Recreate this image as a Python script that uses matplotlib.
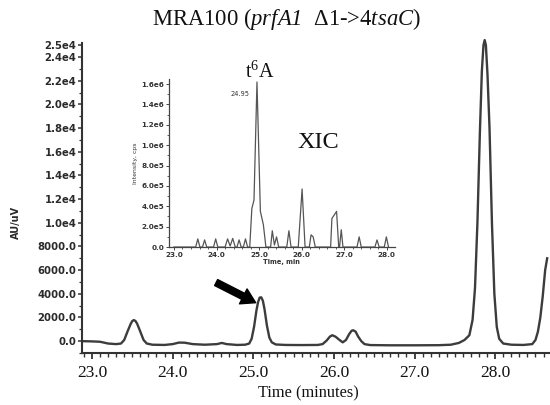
import matplotlib
matplotlib.use("Agg")
import matplotlib.pyplot as plt
from matplotlib.ticker import MultipleLocator, FixedLocator, FixedFormatter

plt.rcParams['mathtext.fontset'] = 'custom'
plt.rcParams['mathtext.rm'] = 'Liberation Serif'
plt.rcParams['mathtext.it'] = 'Liberation Serif:italic'
# italic run that keeps digits italic too (used for gene names)
plt.rcParams['mathtext.sf'] = 'Liberation Serif:italic'

# UV chromatogram (AU/uV vs. retention time)
uv_time = [22.88, 23.00, 23.10, 23.20, 23.30, 23.36, 23.40, 23.44, 23.48, 23.50,
           23.52, 23.54, 23.56, 23.60, 23.64, 23.68, 23.75, 23.90, 24.00, 24.08,
           24.15, 24.25, 24.40, 24.55, 24.61, 24.67, 24.80, 24.90, 24.95, 24.98,
           25.01, 25.04, 25.06, 25.08, 25.10, 25.12, 25.14, 25.17, 25.20, 25.23,
           25.28, 25.40, 25.60, 25.80, 25.86, 25.91, 25.95, 25.98, 26.02, 26.07,
           26.11, 26.15, 26.19, 26.22, 26.24, 26.27, 26.30, 26.34, 26.38, 26.45,
           26.70, 27.00, 27.30, 27.45, 27.55, 27.62, 27.68, 27.72, 27.75, 27.78,
           27.81, 27.835, 27.855, 27.87, 27.885, 27.905, 27.93, 27.96, 27.99, 28.02,
           28.05, 28.10, 28.20, 28.35, 28.46, 28.50, 28.53, 28.56, 28.59, 28.62,
           28.645]
uv_signal = [0, -20, -50, -200, -250, -200, 100, 800, 1450, 1700,
             1780, 1700, 1480, 800, 100, -200, -300, -320, -250, -120,
             -130, -250, -300, -250, -150, -250, -320, -300, -200, 200,
             1200, 2600, 3300, 3680, 3700, 3400, 2700, 1300, 300, -100,
             -280, -320, -330, -320, -250, 50, 380, 500, 380, 100,
             -100, 100, 600, 880, 920, 800, 400, 0, -250, -330,
             -350, -350, -340, -300, -150, 100, 500, 1800, 4500, 10000,
             17500, 22800, 25000, 25430, 25000, 22500, 18000, 10000, 4000, 1200,
             200, -200, -300, -320, -250, 100, 800, 2000, 3800, 6000,
             7000]

# Extracted ion chromatogram (cps vs. retention time)
xic_time = [23.00, 23.51, 23.56, 23.61, 23.67, 23.72, 23.77, 23.93, 23.98, 24.03,
            24.20, 24.26, 24.32, 24.38, 24.44, 24.48, 24.53, 24.58, 24.63, 24.68,
            24.73, 24.78, 24.83, 24.88, 24.95, 25.03, 25.10, 25.16, 25.27, 25.31,
            25.36, 25.41, 25.46, 25.65, 25.70, 25.75, 25.92, 26.01, 26.08, 26.18,
            26.22, 26.27, 26.32, 26.68, 26.71, 26.82, 26.87, 26.89, 26.93, 26.97,
            27.30, 27.35, 27.40, 27.72, 27.77, 27.82, 27.94, 27.99, 28.04]
xic_cps = [0, 0, 0.08e6, 0, 0, 0.07e6, 0, 0, 0.08e6, 0,
           0, 0.08e6, 0.01e6, 0.085e6, 0, 0, 0.07e6, 0, 0, 0.08e6,
           0, 0, 0.38e6, 0.46e6, 1.62e6, 0.35e6, 0.22e6, 0, 0, 0.16e6,
           0.02e6, 0.10e6, 0, 0, 0.16e6, 0, 0, 0.57e6, 0, 0,
           0.12e6, 0.10e6, 0, 0, 0.28e6, 0.35e6, 0, 0, 0.17e6, 0,
           0, 0.10e6, 0, 0, 0.07e6, 0, 0, 0.10e6, 0]

uv_yticks = [0, 2000, 4000, 6000, 8000, 10000, 12000, 14000, 16000, 18000,
             20000, 22000, 24000, 25000]
uv_ytick_labels = ['0.0', '2000.0', '4000.0', '6000.0', '8000.0', '1.0e4', '1.2e4',
                   '1.4e4', '1.6e4', '1.8e4', '2.0e4', '2.2e4', '2.4e4', '2.5e4']
time_ticks = [23.0, 24.0, 25.0, 26.0, 27.0, 28.0]
time_tick_labels = ['23.0', '24.0', '25.0', '26.0', '27.0', '28.0']
xic_yticks = [0, 0.2e6, 0.4e6, 0.6e6, 0.8e6, 1.0e6, 1.2e6, 1.4e6, 1.6e6]
xic_ytick_labels = ['0.0', '2.0e5', '4.0e5', '6.0e5', '8.0e5', '1.0e6', '1.2e6',
                    '1.4e6', '1.6e6']
peak_rt = 24.95

axis_col = '#333333'
line_col = '#3c3c3c'
serif = 'Liberation Serif'
sans = 'DejaVu Sans'

fig = plt.figure(figsize=(5.5, 4.05), dpi=100)

# ---- main chromatogram ----
ax = fig.add_axes([0.149, 0.1284, 0.851, 0.7659])
ax.plot(uv_time, uv_signal, color=line_col, lw=1.7, solid_joinstyle='round',
        clip_on=False)
ax.set_xlim(22.876, 28.68)
ax.set_ylim(-1000, 25200)
for s in ('top', 'right'):
    ax.spines[s].set_visible(False)
for s in ('left', 'bottom'):
    ax.spines[s].set_color(axis_col)
    ax.spines[s].set_linewidth(1.5)

ax.yaxis.set_major_locator(FixedLocator(uv_yticks))
ax.yaxis.set_major_formatter(FixedFormatter(uv_ytick_labels))
ax.yaxis.set_minor_locator(MultipleLocator(1000))
ax.xaxis.set_major_locator(FixedLocator(time_ticks))
ax.xaxis.set_major_formatter(FixedFormatter(time_tick_labels))
ax.xaxis.set_minor_locator(MultipleLocator(0.1))

ax.tick_params(axis='y', which='major', length=3, width=1.1, color=axis_col, pad=1,
               labelsize=7.3, labelcolor='#2a2a2a')
ax.tick_params(axis='y', which='minor', length=2, width=0.9, color=axis_col)
ax.tick_params(axis='x', which='major', length=4, width=1.3, color=axis_col, pad=4.5,
               labelsize=12.5, labelcolor='#111111')
ax.tick_params(axis='x', which='minor', length=3, width=1.0, color=axis_col)
for lab in ax.get_yticklabels():
    lab.set_fontfamily(sans)
    lab.set_fontweight('bold')
for lab in ax.get_xticklabels():
    lab.set_fontfamily(serif)

ax.set_xlabel('Time (minutes)', fontfamily=serif, fontsize=11.8, color='#111111')
ax.xaxis.set_label_coords(0.484, -0.105)
ax.set_ylabel('AU/uV', fontfamily=sans, fontsize=7, fontweight='bold', color='#2a2a2a')
ax.yaxis.set_label_coords(-0.13, 0.42)

ax.annotate('', xy=(25.03, 3250), xytext=(24.54, 4950),
            arrowprops=dict(arrowstyle='simple,head_length=0.5,head_width=0.6,tail_width=0.24',
                            color='black', mutation_scale=20, shrinkA=0, shrinkB=0))

fig.text(0.52, 0.953,
         r'MRA100 ($\mathsf{prfA1}$  Δ1->4$\mathsf{tsaC}$)',
         fontfamily=serif, fontsize=16.3, ha='center', va='center', color='#111111')

# ---- XIC inset ----
ins = fig.add_axes([0.307, 0.390, 0.411, 0.415])
ins.patch.set_visible(False)
ins.plot(xic_time, xic_cps, color='#555555', lw=0.9)
ins.set_xlim(22.88, 28.19)
ins.set_ylim(0, 1.65e6)
for s in ('top', 'right'):
    ins.spines[s].set_visible(False)
for s in ('left', 'bottom'):
    ins.spines[s].set_color('#444444')
    ins.spines[s].set_linewidth(0.9)
ins.yaxis.set_major_locator(FixedLocator(xic_yticks))
ins.yaxis.set_major_formatter(FixedFormatter(xic_ytick_labels))
ins.yaxis.set_minor_locator(MultipleLocator(0.1e6))
ins.xaxis.set_major_locator(FixedLocator(time_ticks))
ins.xaxis.set_major_formatter(FixedFormatter(time_tick_labels))
ins.xaxis.set_minor_locator(MultipleLocator(0.2))
ins.tick_params(which='major', length=2, width=0.7, color='#444444', pad=1.5,
                labelsize=5.2, labelcolor='#333333')
ins.tick_params(which='minor', length=1.3, width=0.6, color='#444444')
for lab in ins.get_xticklabels() + ins.get_yticklabels():
    lab.set_fontfamily(sans)
    lab.set_fontweight('bold')
ins.set_xlabel('Time, min', fontfamily=sans, fontsize=4.8, fontweight='bold',
               color='#333333', labelpad=0.5)
ins.set_ylabel('Intensity, cps', fontfamily=sans, fontsize=4.4, color='#333333',
               labelpad=2)
ins.text(peak_rt - 0.17, 1.50e6, f'{peak_rt:.2f}', fontfamily=sans, fontsize=4.8,
         ha='right', va='center', color='#333333')

fig.text(0.473, 0.822, r'$\mathrm{t}^{6}\mathrm{A}$', fontfamily=serif, fontsize=14.5,
         ha='center', va='center', color='#111111')
fig.text(0.578, 0.647, 'XIC', fontfamily=serif, fontsize=17.5,
         ha='center', va='center', color='#111111')

fig.savefig('out.png', dpi=100)
